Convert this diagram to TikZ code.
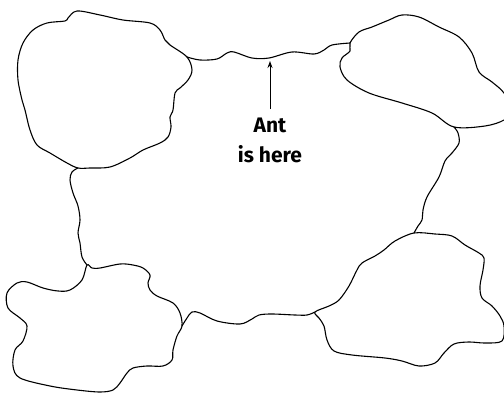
\documentclass[tikz,border=0pt]{standalone}
\usepackage{fontspec}
\setmainfont{Fira Sans}
\usetikzlibrary{arrows.meta}
\begin{document}
\begin{tikzpicture}[x=1pt,y=-1pt,
  edge/.style={line width=1.1pt,line join=round,line cap=round},
  lab/.style={font=\fontsize{21}{29}\selectfont\bfseries,inner sep=0pt,anchor=base}]
\useasboundingbox (0,0) rectangle (504,393);
\clip (0,0) rectangle (504,393);
% top-left blob
\draw[edge] plot[smooth cycle,tension=0.55] coordinates {
 (68,18) (77,11) (100,15) (123,20) (150,23) (160,30) (165,40) (170,45)
 (187,57) (192,70) (188,80) (180,88) (175,93) (173,110) (170,117) (171,127)
 (168,137) (160,143) (143,150) (130,158) (110,167) (90,168) (78,168) (67,163)
 (50,153) (37,145) (30,130) (25,110) (22,100) (18,80) (18,60) (23,43)
 (33,30) (47,23) (65,21)};
% top-right blob
\draw[edge] plot[smooth cycle,tension=0.55] coordinates {
 (350,43) (359,32) (372,27) (389,20) (402,15) (419,17) (439,27) (459,37)
 (472,53) (479,72) (492,82) (504,93) (512,110) (504,120) (485,126) (454,127)
 (432,113) (402,103) (369,93) (347,80) (340,67) (342,58) (350,51)};
% bottom-right blob
\draw[edge] plot[smooth cycle,tension=0.55] coordinates {
 (414,233) (395,241) (384,250) (375,256) (362,263) (357,270) (349,286)
 (339,300) (329,306) (315,312) (319,318) (324,326) (327,340) (334,351)
 (352,355) (385,358) (402,361) (419,366) (435,363) (444,353) (454,344)
 (469,342) (485,343) (502,341) (504,326) (500,316) (492,306) (482,298)
 (480,286) (483,270) (484,258) (479,253) (465,245) (452,236) (435,234)};
% bottom-left blob
\draw[edge] plot[smooth cycle,tension=0.55] coordinates {
 (182,326) (180,313) (173,303) (157,296) (150,290) (148,283) (150,275)
 (143,268) (133,265) (120,264) (100,268) (92,268) (87,265) (82,280)
 (70,290) (58,291) (43,288) (27,282) (17,283) (7,293) (8,308) (20,318)
 (27,326) (23,341) (15,350) (13,366) (20,378) (50,386) (77,390) (100,392)
 (113,390) (120,383) (127,373) (133,368) (147,366) (163,366) (172,360)
 (173,350) (177,336)};
% central region edges
\draw[edge] plot[smooth,tension=0.55] coordinates {
 (187,57) (200,60) (217,59) (227,53) (234,52) (252,58) (269,58) (292,52)
 (314,54) (324,50) (332,45) (350,43)};
\draw[edge] plot[smooth,tension=0.55] coordinates {
 (454,127) (458,133) (459,143) (452,153) (445,161) (439,177) (427,197)
 (423,210) (422,220) (418,226) (414,233)};
\draw[edge] plot[smooth,tension=0.55] coordinates {
 (315,312) (307,315) (295,315) (272,314) (259,315) (252,319) (240,324)
 (217,321) (200,313) (192,312) (187,318) (182,326)};
\draw[edge] plot[smooth,tension=0.55] coordinates {
 (87,265) (82,257) (80,243) (78,233) (80,220) (78,206) (73,193) (70,180)
 (72,172) (78,168)};
% label and arrow
\coordinate (ant) at (270,61);
\node[lab] (lbl1) at (270,133) {Ant};
\node[lab] (lbl2) at (270,163) {is here};
\draw[line width=0.9pt,-{Stealth[length=7pt,width=5pt]}] ([yshift=9pt]lbl1.north) -- (ant);
\end{tikzpicture}
\end{document}
